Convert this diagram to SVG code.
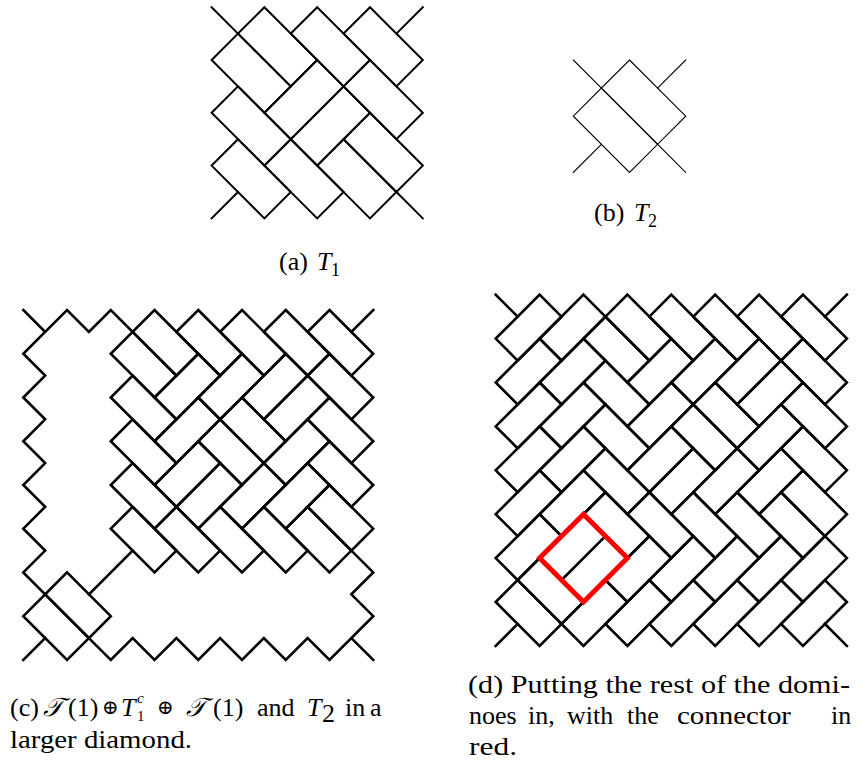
<svg xmlns="http://www.w3.org/2000/svg" width="863" height="768" viewBox="0 0 863 768">
<style>
.t{fill:none;stroke:#000;stroke-linejoin:miter;stroke-linecap:square;vector-effect:non-scaling-stroke}
.red{fill:none;stroke:#f00;stroke-width:5;vector-effect:non-scaling-stroke;stroke-linejoin:miter}
text{font-family:"Liberation Serif","DejaVu Serif",serif;font-size:26px;fill:#000}
.it{font-style:italic}
.s{font-size:15px}
.op{font-size:20px}
</style>
<defs>
<g id="t1c">
<polygon class="t" points="6,0 8,2 7,3 5,1"/>
<polygon class="t" points="8,0 10,2 9,3 7,1"/>
<polygon class="t" points="10,0 12,2 11,3 9,1"/>
<polygon class="t" points="12,0 14,2 13,3 11,1"/>
<polygon class="t" points="14,0 16,2 15,3 13,1"/>
<polygon class="t" points="5,1 7,3 6,4 4,2"/>
<polygon class="t" points="5,3 7,5 6,6 4,4"/>
<polygon class="t" points="5,5 7,7 6,8 4,6"/>
<polygon class="t" points="5,7 7,9 6,10 4,8"/>
<polygon class="t" points="5,9 7,11 6,12 4,10"/>
<polygon class="t" points="14,2 16,4 15,5 13,3"/>
<polygon class="t" points="14,4 16,6 15,7 13,5"/>
<polygon class="t" points="14,6 16,8 15,9 13,7"/>
<polygon class="t" points="14,8 16,10 15,11 13,9"/>
<polygon class="t" points="7,9 9,11 8,12 6,10"/>
<polygon class="t" points="9,9 11,11 10,12 8,10"/>
<polygon class="t" points="11,9 13,11 12,12 10,10"/>
<polygon class="t" points="13,9 15,11 14,12 12,10"/>
<polygon class="t" points="8,2 9,3 7,5 6,4"/>
<polygon class="t" points="10,2 11,3 9,5 8,4"/>
<polygon class="t" points="12,2 13,3 11,5 10,4"/>
<polygon class="t" points="13,3 14,4 12,6 11,5"/>
<polygon class="t" points="13,5 14,6 12,8 11,7"/>
<polygon class="t" points="13,7 14,8 12,10 11,9"/>
<polygon class="t" points="8,4 9,5 7,7 6,6"/>
<polygon class="t" points="8,6 9,7 7,9 6,8"/>
<polygon class="t" points="9,7 10,8 8,10 7,9"/>
<polygon class="t" points="11,7 12,8 10,10 9,9"/>
<polygon class="t" points="10,4 12,6 11,7 9,5"/>
<polygon class="t" points="9,5 11,7 10,8 8,6"/>
</g>
<g id="t2">
<polygon class="t" points="2,12 4,14 3,15 1,13"/>
<polygon class="t" points="1,13 3,15 2,16 0,14"/>
</g>
</defs>
<g id="panel-a" stroke-width="2" transform="translate(211.6,7.2) scale(26.4)">
<g id="a-dominoes">
<polygon class="t" points="1,1 3,3 2,4 0,2"/>
<polygon class="t" points="2,0 4,2 3,3 1,1"/>
<polygon class="t" points="4,0 6,2 5,3 3,1"/>
<polygon class="t" points="6,0 8,2 7,3 5,1"/>
<polygon class="t" points="6,2 8,4 7,5 5,3"/>
<polygon class="t" points="1,3 3,5 2,6 0,4"/>
<polygon class="t" points="1,5 3,7 2,8 0,6"/>
<polygon class="t" points="3,5 5,7 4,8 2,6"/>
<polygon class="t" points="5,5 7,7 6,8 4,6"/>
<polygon class="t" points="6,4 8,6 7,7 5,5"/>
<polygon class="t" points="4,2 5,3 3,5 2,4"/>
<polygon class="t" points="5,3 6,4 4,6 3,5"/>
</g>
<g id="a-connectors">
<path class="t" d="M0,0L1,1M8,0L7,1M0,8L1,7M8,8L7,7"/>
</g>
</g>
<g id="panel-b" stroke-width="1.1" transform="translate(573.3,60) scale(28.1)">
<g id="b-dominoes">
<polygon class="t" points="1,1 3,3 2,4 0,2"/>
<polygon class="t" points="2,0 4,2 3,3 1,1"/>
</g>
<g id="b-connectors">
<path class="t" d="M0,0L1,1M4,0L3,1M0,4L1,3M4,4L3,3"/>
</g>
</g>
<g id="panel-c" stroke-width="2.6" transform="translate(23.3,310) scale(21.87)">
<g id="c-dominoes">
<use href="#t1c"/>
<use href="#t2"/>
</g>
<g id="c-connectors">
<path class="t" d="M0,0L1,1L2,0L3,1L4,0L5,1M1,1L0,2L1,3L0,4L1,5L0,6L1,7L0,8L1,9L0,10L1,11L0,12L1,13M3,13L5,11M16,0L15,1M15,11L16,12L15,13L16,14L15,15L16,16M15,15L14,16L13,15L12,16L11,15L10,16L9,15L8,16L7,15L6,16L5,15L4,16L3,15M0,16L1,15"/>
</g>
</g>
<g id="panel-d" stroke-width="2.6" transform="translate(495.7,294.7) scale(21.95)">
<g id="d-dominoes">
<use href="#t1c"/>
<use href="#t2"/>
<polygon class="t" points="2,0 3,1 1,3 0,2"/>
<polygon class="t" points="2,2 3,3 1,5 0,4"/>
<polygon class="t" points="2,4 3,5 1,7 0,6"/>
<polygon class="t" points="2,6 3,7 1,9 0,8"/>
<polygon class="t" points="2,8 3,9 1,11 0,10"/>
<polygon class="t" points="2,10 3,11 1,13 0,12"/>
<polygon class="t" points="4,0 5,1 3,3 2,2"/>
<polygon class="t" points="4,2 5,3 3,5 2,4"/>
<polygon class="t" points="4,4 5,5 3,7 2,6"/>
<polygon class="t" points="4,6 5,7 3,9 2,8"/>
<polygon class="t" points="4,8 5,9 3,11 2,10"/>
<polygon class="t" points="5,13 6,14 4,16 3,15"/>
<polygon class="t" points="7,13 8,14 6,16 5,15"/>
<polygon class="t" points="9,13 10,14 8,16 7,15"/>
<polygon class="t" points="11,13 12,14 10,16 9,15"/>
<polygon class="t" points="13,13 14,14 12,16 11,15"/>
<polygon class="t" points="15,13 16,14 14,16 13,15"/>
<polygon class="t" points="7,11 8,12 6,14 5,13"/>
<polygon class="t" points="9,11 10,12 8,14 7,13"/>
<polygon class="t" points="11,11 12,12 10,14 9,13"/>
<polygon class="t" points="13,11 14,12 12,14 11,13"/>
<polygon class="t" points="15,11 16,12 14,14 13,13"/>
</g>
<g id="d-connectors">
<path class="t" d="M0,0L1,1M16,0L15,1M0,16L1,15M16,16L15,15"/>
</g>
<g id="d-connector-red">
<path class="t" d="M5,11L3,13"/>
<polygon class="red" points="4,10 6,12 4,14 2,12"/>
</g>
</g>
<g id="captions">
<text y="270"><tspan x="279">(a)</tspan><tspan x="317" class="it">T</tspan><tspan x="331" y="276" font-size="18">1</tspan></text>
<text y="221"><tspan x="594">(b)</tspan><tspan x="634" class="it">T</tspan><tspan x="648" y="227" font-size="18">2</tspan></text>
<text x="10" y="716">(c)</text>
<text x="43" y="716"><tspan class="it">𝒯</tspan><tspan x="68">(1)</tspan></text>
<text x="102" y="714" class="op">⊕</text>
<text x="121" y="716" class="it">T</text>
<text x="137" y="703" class="s it">c</text>
<text x="137" y="721" class="s">1</text>
<text x="157" y="714" class="op">⊕</text>
<text x="186" y="716"><tspan class="it">𝒯</tspan><tspan x="213">(1)</tspan></text>
<text x="257" y="716">and</text>
<text x="307" y="716" class="it">T</text>
<text x="322" y="722" font-size="18">2</text>
<text x="345" y="716">in</text>
<text x="370" y="716">a</text>
<text x="10" y="748" textLength="182" lengthAdjust="spacingAndGlyphs">larger diamond.</text>
<text x="468" y="693" textLength="382" lengthAdjust="spacingAndGlyphs">(d) Putting the rest of the domi-</text>
<text y="724"><tspan x="469">noes</tspan><tspan x="528">in,</tspan><tspan x="567">with</tspan><tspan x="627">the</tspan><tspan x="677" textLength="114" lengthAdjust="spacingAndGlyphs">connector</tspan><tspan x="831">in</tspan></text>
<text x="469" y="755" textLength="48" lengthAdjust="spacingAndGlyphs">red.</text>
</g>
</svg>
